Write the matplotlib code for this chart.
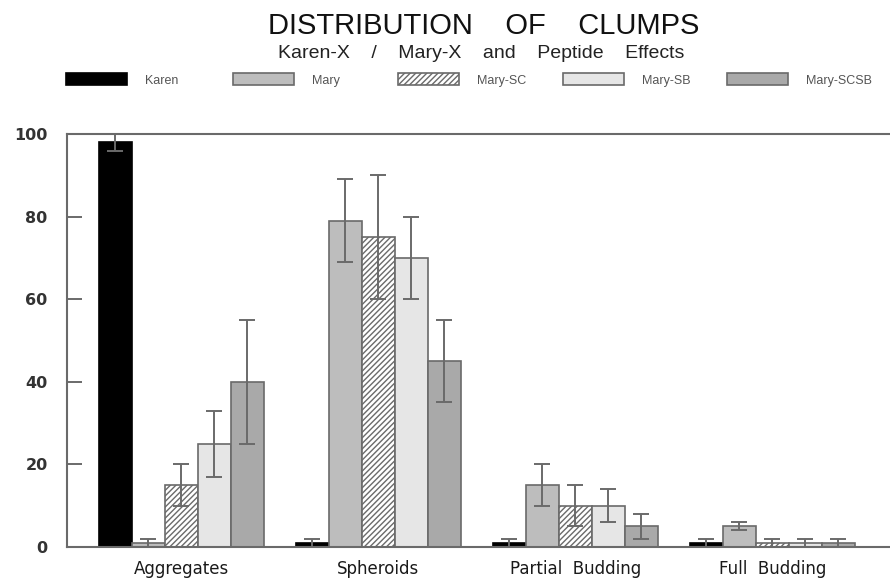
import matplotlib
matplotlib.use("Agg")
import matplotlib.pyplot as plt
import numpy as np

plt.rcParams['font.family'] = ['Liberation Sans', 'DejaVu Sans']
plt.rcParams['hatch.color'] = "#8a8a8a"

categories = ["Aggregates", "Spheroids", "Partial  Budding", "Full  Budding"]
series = ["Karen", "Mary", "Mary-SC", "Mary-SB", "Mary-SCSB"]

karen = [98, 1, 1, 1]
mary = [1, 79, 15, 5]
mary_sc = [15, 75, 10, 1]
mary_sb = [25, 70, 10, 1]
mary_scsb = [40, 45, 5, 1]

karen_err = [2, 1, 1, 1]
mary_err = [1, 10, 5, 1]
mary_sc_err = [5, 15, 5, 1]
mary_sb_err = [8, 10, 4, 1]
mary_scsb_err = [15, 10, 3, 1]

ytick_values = [0, 20, 40, 60, 80, 100]
ytick_labels = ["0", "20", "40", "60", "80", "100"]

values = [karen, mary, mary_sc, mary_sb, mary_scsb]
errors = [karen_err, mary_err, mary_sc_err, mary_sb_err, mary_scsb_err]
fills = ["#000000", "#bdbdbd", "#ffffff", "#e6e6e6", "#a9a9a9"]
hatches = [None, None, "//////", None, None]

edge = "#6a6a6a"
fig = plt.figure(figsize=(8.9, 5.8), dpi=100)
ax = fig.add_axes([67 / 890, 1 - 547 / 580, 1 - 67 / 890, (547 - 134) / 580])

x = np.arange(len(categories))
width = 0.1675
handles = []
for i, (vals, errs) in enumerate(zip(values, errors)):
    pos = x + (i - 2) * width
    b = ax.bar(pos, vals, width, color=fills[i], edgecolor=edge if i else "#000000",
               linewidth=1.2, hatch=hatches[i], label=series[i], zorder=2)
    handles.append(b)
    ax.errorbar(pos, vals, yerr=errs, fmt="none", ecolor=edge, elinewidth=1.4,
                capsize=5.8, capthick=1.4, zorder=3)

ax.set_xlim(-0.581, 3.597)
ax.set_ylim(0, 100)
ax.set_xticks(x)
ax.set_xticklabels(categories, fontsize=12, color="#1a1a1a", family="DejaVu Sans")
ax.tick_params(axis="x", length=0, pad=9)
ax.set_yticks(ytick_values)
ax.set_yticklabels(ytick_labels, fontsize=11.5, fontweight="bold", color="#333333",
                   family="DejaVu Sans")
ax.tick_params(axis="y", direction="in", length=11, width=1.4, color=edge, pad=14)
for t in ax.yaxis.get_major_ticks():
    if t.get_loc() in (0, 100):
        t.tick1line.set_visible(False)
for side in ("left", "bottom", "top"):
    ax.spines[side].set_color(edge)
    ax.spines[side].set_linewidth(1.5)
ax.spines["right"].set_visible(False)

fig.text(0.544, 0.956, "DISTRIBUTION    OF    CLUMPS", ha="center", va="center",
         fontsize=21, color="#111111")
fig.text(0.541, 0.908, "Karen-X    /    Mary-X    and    Peptide    Effects",
         ha="center", va="center", fontsize=14, color="#222222")

# one legend entry per column, evenly spaced across the top
legend_x = [66, 233, 398, 563, 727]
for h, name, lx in zip(handles, series, legend_x):
    fig.legend(handles=[h], labels=[name], loc="center left",
               bbox_to_anchor=(lx / 890, 1 - 80 / 580), frameon=False,
               fontsize=9, handlelength=4.9, handleheight=1.1, handletextpad=1.45,
               borderpad=0, borderaxespad=0, labelcolor="#555555")

fig.savefig("out.png", dpi=100)
